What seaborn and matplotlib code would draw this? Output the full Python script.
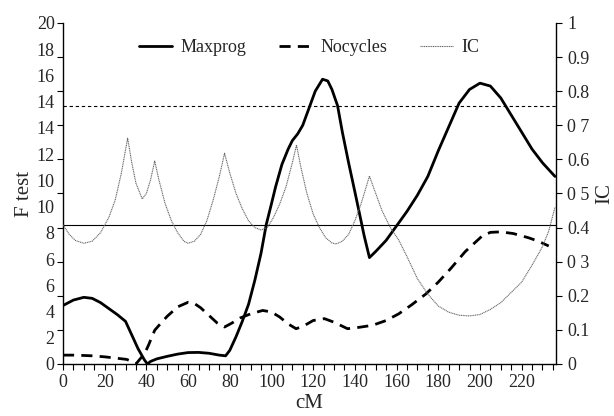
import numpy as np
import pandas as pd
import matplotlib
matplotlib.use("Agg")
import matplotlib.pyplot as plt
import seaborn as sns

# ---- data ----
maxprog_cm = [0, 5, 10, 14, 18, 22, 26, 30, 33, 36, 39, 40.5, 42, 45, 50, 55, 60, 65, 70, 75, 78,
              80, 83, 86, 89, 92, 95, 97.5, 100, 102, 105, 108, 110, 112.6, 115, 118, 121, 124.5,
              127, 129, 131.7, 134, 137, 140, 142, 144.5, 147, 150, 155, 160, 165, 170, 175, 180,
              185, 190, 195, 200, 205, 210, 215, 220, 225, 230, 236]
maxprog_f = [3.43, 3.75, 3.91, 3.85, 3.6, 3.25, 2.9, 2.5, 1.7, 0.9, 0.25, 0.0, 0.15, 0.3, 0.45, 0.58,
             0.67, 0.68, 0.63, 0.52, 0.48, 0.8, 1.6, 2.5, 3.5, 4.9, 6.5, 8.18, 9.4, 10.4, 11.7, 12.6,
             13.1, 13.5, 14.0, 15.0, 16.0, 16.7, 16.6, 16.1, 15.15, 13.6, 11.8, 10.1, 8.95, 7.5, 6.24,
             6.6, 7.25, 8.1, 8.95, 9.9, 11.0, 12.5, 13.9, 15.3, 16.1, 16.47, 16.3, 15.6, 14.6, 13.6,
             12.6, 11.8, 11.0]

nocycles_cm = [0, 5, 10, 14, 20, 25, 30.5, 33, 35, 37, 39.2, 41, 44, 47, 50, 55, 60, 63, 66, 70, 74,
               77.5, 81, 85, 90, 95.8, 100, 104, 108, 111.8, 115, 120, 125.4, 130, 136.5, 142, 148.5,
               155, 161, 167, 174, 180, 186, 193, 201, 205, 210, 216, 223.4, 228, 233]
nocycles_f = [0.52, 0.52, 0.5, 0.48, 0.42, 0.35, 0.27, 0.15, 0.0, 0.3, 0.62, 1.1, 1.98, 2.4, 2.8, 3.35,
              3.62, 3.55, 3.3, 2.85, 2.4, 2.17, 2.4, 2.7, 2.94, 3.14, 3.05, 2.75, 2.35, 2.07, 2.2, 2.55,
              2.66, 2.45, 2.07, 2.15, 2.27, 2.55, 2.94, 3.45, 4.1, 4.8, 5.6, 6.6, 7.5, 7.72, 7.75, 7.65,
              7.4, 7.2, 6.92]

ic_cm = [0, 3, 6, 10, 14, 18, 22, 25, 28, 31, 33, 35, 38, 40, 42, 44, 46, 49, 52, 55, 58, 60, 63, 66,
         69, 72, 75, 77.5, 80, 83, 86, 89, 92, 95, 98, 101, 104, 107, 110, 112, 114, 117, 120, 123,
         126, 129, 131, 134, 137, 140, 143, 147, 150, 153, 157, 161, 165, 170, 175, 180, 185, 190,
         195, 200, 205, 210, 215, 220, 225, 230, 233, 236]
ic_val = [0.408, 0.38, 0.362, 0.354, 0.36, 0.385, 0.43, 0.48, 0.56, 0.662, 0.59, 0.53, 0.484, 0.50,
          0.54, 0.595, 0.54, 0.47, 0.42, 0.385, 0.36, 0.354, 0.36, 0.38, 0.42, 0.48, 0.55, 0.618, 0.56,
          0.50, 0.455, 0.42, 0.40, 0.393, 0.40, 0.43, 0.47, 0.52, 0.59, 0.642, 0.58, 0.50, 0.44, 0.40,
          0.37, 0.355, 0.352, 0.36, 0.38, 0.42, 0.47, 0.551, 0.50, 0.45, 0.40, 0.364, 0.315, 0.25,
          0.205, 0.17, 0.152, 0.143, 0.141, 0.145, 0.16, 0.18, 0.21, 0.24, 0.29, 0.344, 0.39, 0.46]

threshold_solid = 8.15
threshold_dashed = 15.15

x_major = [0, 20, 40, 60, 80, 100, 120, 140, 160, 180, 200, 220]
left_label_text = ["0", "2", "4", "6", "6", "8", "10", "10", "12", "14", "14", "16", "18", "20"]
right_label_text = ["0", "0.1", "0.2", "0 3", "0.4", "0 5", "0.6", "0 7", "0.8", "0.9", "1"]

# ---- figure ----
sns.set_theme(style="white")
plt.rcParams['font.family'] = ['Liberation Serif', 'DejaVu Serif']
plt.rcParams['font.size'] = 13

fig = plt.figure(figsize=(6.14, 4.16), dpi=100)
ax = fig.add_axes([0.1026, 0.125, 0.803, 0.8198])
ax2 = ax.twinx()

df_m = pd.DataFrame({"cM": maxprog_cm, "F": maxprog_f})
df_n = pd.DataFrame({"cM": nocycles_cm, "F": nocycles_f})
df_i = pd.DataFrame({"cM": ic_cm, "IC": ic_val})

ax.axhline(threshold_solid, color="black", lw=0.8, zorder=1)
ax.axhline(threshold_dashed, color="black", lw=0.8, ls=(0, (3, 2.5)), zorder=1)

sns.lineplot(data=df_m, x="cM", y="F", ax=ax, color="black", linewidth=2.0, sort=False,
             label="Maxprog", legend=False)
sns.lineplot(data=df_n, x="cM", y="F", ax=ax, color="black", linewidth=2.0, sort=False,
             linestyle=(0, (4, 2.6)), label="Nocycles", legend=False)
sns.lineplot(data=df_i, x="cM", y="IC", ax=ax2, color="#666666", linewidth=0.8, sort=False,
             linestyle=(0, (1, 0.6)), label="IC", legend=False)

ax.set_xlim(0, 236.5)
ax.set_ylim(0, 20)
ax2.set_ylim(0, 1)

ax.set_xticks(x_major)
ax.set_xticks(np.arange(0, 236, 5), minor=True)
ax.set_xticklabels([str(v) for v in x_major], fontsize=13)

# major: label positions (no tick marks); minor: real tick marks every 2
ax.yaxis.remove_overlapping_locs = False
ax.set_yticks(np.linspace(0, 20, len(left_label_text)))
ax.set_yticklabels(left_label_text, fontsize=13)
ax.set_yticks(np.arange(0, 21, 2), minor=True)
ax.set_yticklabels([""] * 11, minor=True)

ax2.set_yticks(np.linspace(0, 1, 11))
ax2.set_yticklabels(right_label_text, fontsize=13)

ax.tick_params(axis="x", which="both", direction="out", length=4, width=0.8, color="black",
               bottom=True, pad=3)
ax.tick_params(axis="y", which="minor", direction="out", length=4, width=0.8, color="black",
               left=True)
ax.tick_params(axis="y", which="major", length=0, left=True, pad=6)
ax2.tick_params(axis="y", direction="out", length=4, width=0.8, color="black", right=True, pad=4)

for a in (ax, ax2):
    for s in a.spines.values():
        s.set_color("black")
        s.set_linewidth(1.0)
    a.spines["top"].set_visible(False)
    a.grid(False)
ax.spines["right"].set_visible(False)
ax2.spines["left"].set_visible(False)
ax2.spines["bottom"].set_visible(False)

ax.set_xlabel("cM", fontsize=15, labelpad=2)
ax.set_ylabel("F test", fontsize=15, labelpad=2)
ax2.set_ylabel("IC", fontsize=15, labelpad=4)

h1, l1 = ax.get_legend_handles_labels()
h2, l2 = ax2.get_legend_handles_labels()
leg = ax.legend(h1 + h2, l1 + l2, loc="upper center", bbox_to_anchor=(0.5, 1.0), ncol=3,
                frameon=False, fontsize=13, handlelength=1.8, columnspacing=1.8,
                handletextpad=0.5)

fig.savefig("out.png", dpi=100)
